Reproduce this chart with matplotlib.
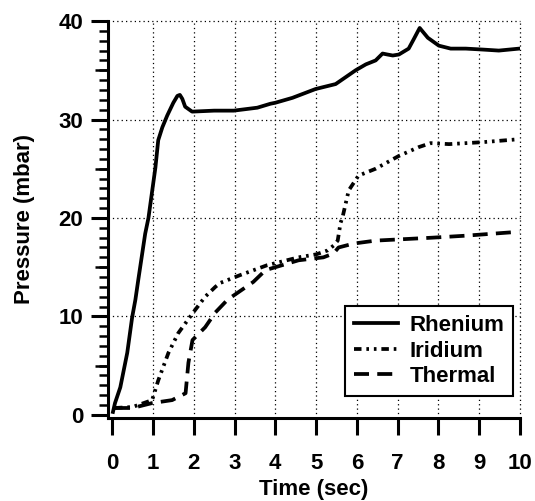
import matplotlib
matplotlib.use("Agg")
import matplotlib.pyplot as plt
from matplotlib.ticker import MultipleLocator

plt.rcParams['font.family'] = ['Liberation Sans', 'DejaVu Sans']
plt.rcParams['font.weight'] = 'bold'

# odectene hodnoty z obrazku
rhenium_t = [0.02, 0.07, 0.2, 0.37, 0.49, 0.57, 0.64, 0.81, 0.89, 1.06, 1.13, 1.23, 1.35, 1.5,
             1.6, 1.66, 1.72, 1.79, 1.96, 2.5, 2.98, 3.56, 3.88, 4.0, 4.42, 4.99, 5.48, 5.97,
             6.22, 6.46, 6.63, 6.75, 6.88, 7.03, 7.27, 7.40, 7.54, 7.62, 7.74, 8.01, 8.30, 8.67,
             9.1, 9.48, 9.98]
rhenium_p = [0.3, 1.2, 2.8, 6.3, 9.9, 11.7, 13.7, 18.4, 20.0, 25.1, 27.9, 29.2, 30.4, 31.7,
             32.4, 32.5, 32.1, 31.3, 30.8, 30.9, 30.9, 31.2, 31.6, 31.7, 32.2, 33.1, 33.6, 35.0,
             35.6, 36.0, 36.7, 36.6, 36.5, 36.6, 37.2, 38.2, 39.3, 38.9, 38.3, 37.5, 37.2, 37.2,
             37.1, 37.0, 37.2]

iridium_t = [0.07, 0.5, 0.98, 1.13, 1.38, 1.62, 1.97, 2.28, 2.53, 2.65, 3.14, 3.8, 4.57, 5.0,
             5.28, 5.43, 5.53, 5.6, 5.65, 5.8, 6.04, 6.46, 7.03, 7.52, 7.81, 8.26, 9.09, 9.98]
iridium_p = [0.7, 0.8, 1.5, 3.5, 6.3, 8.3, 10.3, 12.0, 13.0, 13.4, 14.2, 15.2, 16.0, 16.3,
             16.7, 17.2, 17.7, 19.5, 20.1, 22.8, 24.3, 25.0, 26.3, 27.2, 27.6, 27.5, 27.7, 28.0]

thermal_t = [0.07, 0.5, 0.98, 1.47, 1.8, 1.87, 1.97, 2.28, 2.53, 2.83, 3.46, 3.76, 4.57, 5.18,
             5.43, 5.55, 5.92, 6.46, 7.86, 8.67, 9.98]
thermal_p = [0.7, 0.7, 1.2, 1.5, 2.2, 5.3, 7.6, 8.9, 10.4, 11.7, 13.5, 14.7, 15.7, 16.0,
             16.4, 17.0, 17.4, 17.7, 18.0, 18.2, 18.6]

fig = plt.figure(figsize=(5.35, 5.01), dpi=100)
ax = fig.add_axes([0.202, 0.166, 0.77, 0.792])

ax.plot(rhenium_t, rhenium_p, color='black', lw=2.7, label='Rhenium', solid_joinstyle='round')
ax.plot(iridium_t, iridium_p, color='black', lw=2.7, label='Iridium',
        linestyle=(0, (2.0, 1.3, 0.7, 1.3, 0.7, 1.3)))
ax.plot(thermal_t, thermal_p, color='black', lw=2.7, label='Thermal',
        linestyle=(0, (4.0, 2.2)))

ax.set_xlim(-0.1, 10)
ax.set_ylim(-0.3, 40)

ax.spines['top'].set_visible(False)
ax.spines['right'].set_visible(False)
ax.spines['left'].set_linewidth(2.2)
ax.spines['bottom'].set_linewidth(2.2)

ax.set_xticks(range(0, 11))
ax.set_yticks([0, 10, 20, 30, 40])
ax.yaxis.set_minor_locator(MultipleLocator(1))
ax.tick_params(axis='both', which='major', direction='out', length=12, width=2.2,
               labelsize=16)
ax.tick_params(axis='x', which='major', pad=13)
ax.tick_params(axis='y', which='major', pad=6)
ax.tick_params(axis='y', which='minor', direction='out', length=6.5, width=1.8)

# stredni znacky na 5, 15, 25, 35
mid = ax.secondary_yaxis('left')
mid.set_yticks([5, 15, 25, 35])
mid.set_yticklabels([])
mid.tick_params(axis='y', length=9.5, width=1.8)
mid.spines['left'].set_visible(False)

for v in range(1, 11):
    ax.axvline(v, color='black', lw=0.9, linestyle=(0, (1, 2.5)), zorder=0, clip_on=False)
for v in [10, 20, 30, 40]:
    ax.axhline(v, color='black', lw=0.9, linestyle=(0, (1, 2.5)), zorder=0, clip_on=False)

ax.set_xlabel('Time (sec)', fontsize=16, fontweight='bold', labelpad=4)
ax.set_ylabel('Pressure (mbar)', fontsize=16, fontweight='bold', labelpad=17)

leg = ax.legend(loc='lower right', bbox_to_anchor=(0.983, 0.055), fontsize=16, frameon=True,
                fancybox=False, edgecolor='black', framealpha=1, handlelength=2.0,
                handletextpad=0.5, borderpad=0.4, labelspacing=0.2, borderaxespad=0)
leg.get_frame().set_linewidth(1.5)
for t in leg.get_texts():
    t.set_fontweight('bold')

fig.savefig('out.png', dpi=100)
